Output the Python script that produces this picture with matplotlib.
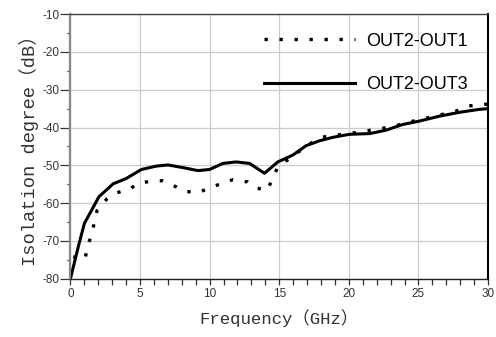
import matplotlib
matplotlib.use("Agg")
import matplotlib.pyplot as plt
from matplotlib.ticker import MultipleLocator

plt.rcParams["axes.unicode_minus"] = False

# OUT2-OUT3 (solid)
solid_x = [0, 0.56, 1.0, 2.05, 3.07, 4.0, 5.1, 6.18, 7.0, 8.08, 9.16, 10.0, 10.95, 11.9,
           12.87, 13.94, 14.9, 15.97, 16.93, 17.9, 18.84, 20.03, 21.5, 22.67, 23.86, 25.06,
           26.5, 27.9, 29.35, 30.0]
solid_y = [-80, -71.6, -65.4, -58.3, -54.9, -53.5, -51.1, -50.2, -49.9, -50.6, -51.4, -51.1,
           -49.5, -49.1, -49.5, -52.1, -49.1, -47.3, -44.8, -43.5, -42.6, -41.8, -41.6, -40.7,
           -39.2, -38.3, -37.0, -36.0, -35.2, -35.0]

# OUT2-OUT1 (dotted)
dot_x = [0.2, 1.04, 1.28, 1.52, 1.76, 1.92, 2.64, 3.19, 4.27, 4.82, 5.94, 6.6, 7.6, 8.2,
         9.28, 9.88, 11.0, 11.67, 12.75, 13.3, 14.1, 14.42, 14.9, 16.0, 17.0, 17.9, 18.5,
         20.4, 21.6, 22.3, 23.4, 24.0, 25.0, 26.5, 27.6, 28.6, 29.35, 30.0]
dot_y = [-74.2, -74.9, -70.8, -68.5, -64.3, -61.9, -58.8, -57.4, -56.3, -54.8, -54.1, -54.1,
         -55.7, -56.9, -57.2, -56.0, -54.7, -53.8, -54.4, -55.9, -56.7, -54.4, -50.4, -47.5,
         -44.8, -42.7, -42.3, -41.4, -40.7, -40.3, -39.5, -38.8, -38.0, -36.7, -35.8, -34.3,
         -34.0, -33.8]

labels = ["OUT2-OUT1", "OUT2-OUT3"]
xlabel = "Frequency（GHz）"
ylabel = "Isolation degree（dB）"

fig = plt.figure(figsize=(4.96, 3.37), dpi=100)
ax = fig.add_axes([0.142, 0.173, 0.842, 0.785])

ax.plot(dot_x, dot_y, color="black", lw=2.4, linestyle=(0, (1.0, 3.5)), label=labels[0])
ax.plot(solid_x, solid_y, color="black", lw=2.2, label=labels[1])

ax.set_xlim(0, 30)
ax.set_ylim(-80, -10)
ax.xaxis.set_major_locator(MultipleLocator(5))
ax.xaxis.set_minor_locator(MultipleLocator(1))
ax.yaxis.set_major_locator(MultipleLocator(10))
ax.yaxis.set_minor_locator(MultipleLocator(5))
ax.grid(True, which="major", color="#cccccc", lw=0.9)
ax.set_axisbelow(True)

ax.tick_params(axis="x", which="both", direction="out", length=4, width=0.9,
               colors="#333333", labelsize=8.5, pad=3)
ax.tick_params(axis="y", which="major", direction="out", length=7, width=0.9,
               colors="#333333", labelsize=8.5, pad=1)
ax.tick_params(axis="y", which="minor", direction="out", length=2, width=0.9, colors="#333333")
for lab in ax.get_xticklabels() + ax.get_yticklabels():
    lab.set_family("Liberation Sans")

ax.spines["left"].set_color("#888888")
ax.spines["left"].set_linewidth(1.6)
ax.spines["top"].set_color("#444444")
ax.spines["top"].set_linewidth(1.0)
ax.spines["right"].set_color("black")
ax.spines["right"].set_linewidth(1.5)
ax.spines["bottom"].set_color("#222222")
ax.spines["bottom"].set_linewidth(1.0)

ax.set_xlabel(xlabel, family=["Liberation Mono", "Noto Sans CJK SC"], size=12.5,
              color="#333333", labelpad=6)
ax.set_ylabel(ylabel, family=["Liberation Mono", "Noto Sans CJK SC"], size=13.5,
              color="#333333", labelpad=2)

leg = ax.legend(loc="upper right", bbox_to_anchor=(0.952, 0.93), frameon=False,
                prop=dict(family="Liberation Sans", size=13), handlelength=5.0,
                handletextpad=0.65, labelspacing=1.45, borderpad=0, borderaxespad=0)

fig.savefig("out.png", dpi=100)
